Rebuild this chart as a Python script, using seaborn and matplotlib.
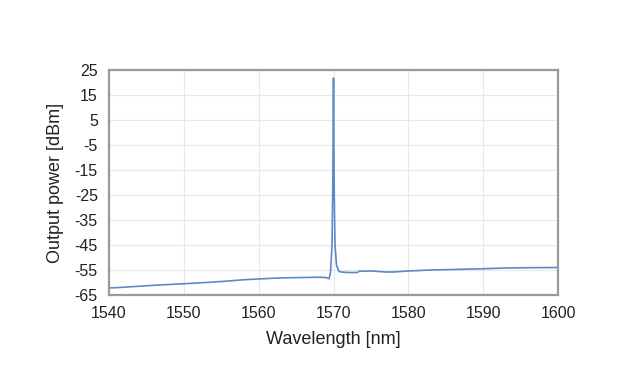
import matplotlib
matplotlib.use("Agg")
import matplotlib.pyplot as plt
import seaborn as sns

# spectrum
wavelength = [1540, 1542, 1545, 1548, 1550, 1553, 1556, 1558, 1560, 1562, 1564,
              1566, 1568, 1569, 1569.4, 1569.6, 1569.8, 1569.9, 1569.95, 1570.0,
              1570.05, 1570.1, 1570.2, 1570.4, 1570.7, 1571, 1572, 1573.2,
              1573.4, 1575, 1577, 1578, 1580, 1583, 1586, 1590, 1593, 1596, 1600]
power = [-62.2, -61.9, -61.3, -60.8, -60.5, -60.0, -59.4, -58.9, -58.6, -58.3,
         -58.1, -58.0, -57.9, -58.0, -58.5, -56.0, -45.0, -23.0, 0.0, 21.8,
         -5.0, -25.0, -45.0, -53.0, -55.5, -55.8, -56.0, -56.0, -55.5, -55.4,
         -55.8, -55.8, -55.4, -55.0, -54.8, -54.5, -54.2, -54.1, -54.0]
xticks = [1540, 1550, 1560, 1570, 1580, 1590, 1600]
yticks = [25, 15, 5, -5, -15, -25, -35, -45, -55, -65]

sns.set_style("white")
plt.rcParams["font.family"] = ["Liberation Sans", "DejaVu Sans"]
plt.rcParams["axes.unicode_minus"] = False

fig = plt.figure(figsize=(6.21, 3.84), dpi=100)
ax = fig.add_axes([0.1755, 0.2318, 0.7231, 0.5859])

sns.lineplot(x=wavelength, y=power, ax=ax, color="#5b8ac4", linewidth=1.2)

ax.set_xlim(1540, 1600)
ax.set_ylim(-65, 25)
ax.set_xticks(xticks)
ax.set_yticks(yticks)
ax.grid(True, color="#e8e8e8", linewidth=0.8)
ax.tick_params(length=0, labelsize=11.5, colors="#222222", pad=8)
for s in ax.spines.values():
    s.set_color("#9a9a9a")
    s.set_linewidth(1.6)

ax.set_xlabel("Wavelength [nm]", fontsize=13, color="#222222", labelpad=7)
ax.set_ylabel("Output power [dBm]", fontsize=13, color="#222222", labelpad=8)

fig.savefig("out.png", dpi=100)
